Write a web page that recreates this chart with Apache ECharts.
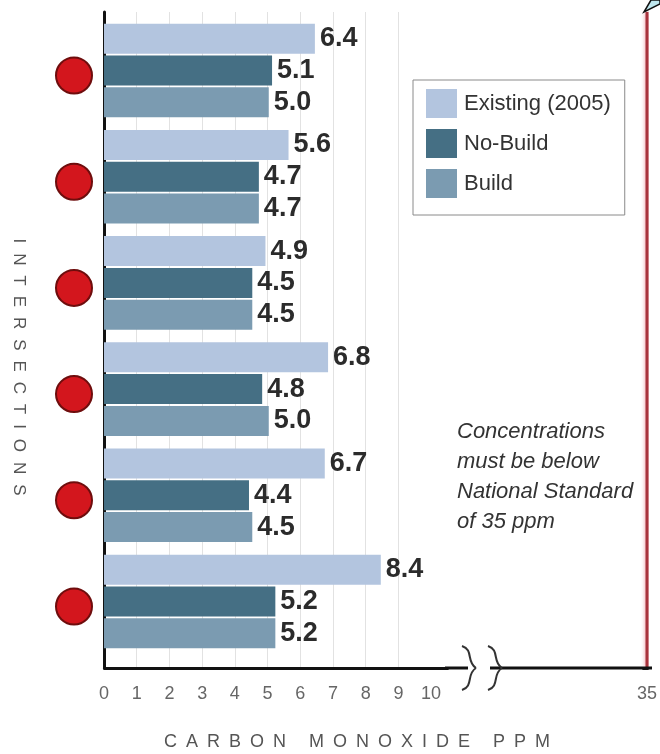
<!DOCTYPE html>
<html>
<head>
<meta charset="utf-8">
<script src="https://cdn.jsdelivr.net/npm/echarts@6/dist/echarts.min.js"></script>
<style>
  html, body { margin: 0; padding: 0; background: #fff; }
  #chart { width: 660px; height: 754px; }
</style>
</head>
<body>
<div id="chart"></div>
<script>
// Carbon monoxide concentrations (ppm) at six intersections
const intersections = ['1', '2', '3', '4', '5', '6'];
const existing2005 = [6.4, 5.6, 4.9, 6.8, 6.7, 8.4];
const noBuild = [5.1, 4.7, 4.5, 4.8, 4.4, 5.2];
const build = [5.0, 4.7, 4.5, 5.0, 4.5, 5.2];
const seriesNames = ['Existing (2005)', 'No-Build', 'Build'];
const tickValues = [0, 1, 2, 3, 4, 5, 6, 7, 8, 9, 10, 35];
const nationalStandard = 35;

const seriesColors = ['#b3c5df', '#456f84', '#7b9bb1'];
const sansFont = '"Liberation Sans", Arial, sans-serif';
const narrowFont = '"Liberation Sans Narrow", "Liberation Sans", Arial, sans-serif';

// Shared scale: 0-10 in full, then a break up to the 35 ppm standard
function ppmAxis(gridIndex, visible) {
  return {
    type: 'value',
    gridIndex: gridIndex,
    min: 0,
    max: 35,
    interval: 1,
    breaks: [{ start: 10.5, end: 34.9, gap: 6 }],
    breakArea: { show: false },
    axisLine: { show: visible, lineStyle: { color: '#111', width: 3 } },
    axisTick: { show: false },
    splitLine: { show: visible, lineStyle: { color: '#e2e2e2', width: 1 } },
    axisLabel: {
      show: visible,
      customValues: tickValues,
      margin: 17,
      color: '#666',
      fontSize: 18,
      fontFamily: narrowFont
    }
  };
}

const barSeries = [existing2005, noBuild, build].map(function (values, i) {
  return {
    name: seriesNames[i],
    type: 'bar',
    xAxisIndex: 0,
    yAxisIndex: 0,
    data: values,
    barWidth: 30,
    barGap: '6%',
    itemStyle: { color: seriesColors[i] },
    label: {
      show: true,
      position: 'right',
      distance: 5,
      formatter: function (p) { return p.value.toFixed(1); },
      fontSize: 27,
      fontWeight: 'bold',
      color: '#2b2b2b',
      fontFamily: sansFont
    }
  };
});

// brace-shaped break mark drawn across the axis line
function breakMark(x0) {
  const style = { fill: 'none', stroke: '#333', lineWidth: 2 };
  return [
    { type: 'bezierCurve', z: 51, shape: { x1: x0, y1: 646, cpx1: x0 + 12, cpy1: 650, cpx2: x0 + 4, cpy2: 662, x2: x0 + 14, y2: 668 }, style: style },
    { type: 'bezierCurve', z: 51, shape: { x1: x0 + 14, y1: 668, cpx1: x0 + 4, cpy1: 674, cpx2: x0 + 12, cpy2: 686, x2: x0, y2: 690 }, style: style }
  ];
}

// axis line continued on both sides of the break
const axisLineStyle = { stroke: '#111', lineWidth: 3 };
const axisLineSegments = [
  { type: 'line', z: 50, shape: { x1: 445, y1: 668, x2: 468, y2: 668 }, style: axisLineStyle },
  { type: 'line', z: 50, shape: { x1: 490, y1: 668, x2: 652, y2: 668 }, style: axisLineStyle }
];

const chart = echarts.init(document.getElementById('chart'), null, { renderer: 'canvas' });

chart.setOption({
  animation: false,
  backgroundColor: '#fff',
  grid: [
    { left: 104, right: 9, top: 17.4, bottom: 99.4 },
    { left: 104, right: 9, top: 12, bottom: 86 }
  ],
  xAxis: [ppmAxis(0, false), ppmAxis(1, true)],
  yAxis: [
    {
      type: 'category',
      gridIndex: 0,
      data: intersections,
      inverse: true,
      axisLine: { show: false },
      axisTick: { show: false },
      splitLine: { show: false },
      axisLabel: {
        margin: 13,
        padding: [10, 0, 0, 0],
        formatter: function () { return '{dot|}'; },
        rich: {
          dot: {
            width: 34,
            height: 34,
            borderRadius: 17,
            backgroundColor: '#d3161d',
            borderColor: '#6e0d0d',
            borderWidth: 2
          }
        }
      }
    },
    {
      type: 'value',
      gridIndex: 1,
      min: 0,
      max: 1,
      axisLine: { show: true, lineStyle: { color: '#111', width: 3 } },
      axisTick: { show: false },
      axisLabel: { show: false },
      splitLine: { show: false }
    }
  ],
  legend: {
    data: seriesNames,
    orient: 'vertical',
    left: 413,
    top: 80,
    padding: [9, 14, 17, 13],
    itemWidth: 31,
    itemHeight: 29,
    itemGap: 11,
    icon: 'rect',
    backgroundColor: '#fff',
    borderColor: '#8a8a8a',
    borderWidth: 1,
    textStyle: { fontSize: 22, color: '#333', fontFamily: sansFont, padding: [0, 0, 0, 2] }
  },
  series: barSeries.concat([
    {
      name: 'National Standard',
      type: 'line',
      xAxisIndex: 1,
      yAxisIndex: 1,
      data: [[nationalStandard, 0], [nationalStandard, 1]],
      symbol: 'none',
      silent: true,
      lineStyle: {
        color: '#a8323c',
        width: 3,
        shadowColor: 'rgba(235, 120, 130, 0.9)',
        shadowBlur: 4
      },
      z: 5
    }
  ]),
  graphic: axisLineSegments.concat(breakMark(462), breakMark(488), [
    {
      type: 'text', z: 60,
      x: 19, y: 367,
      rotation: -Math.PI / 2,
      style: {
        text: 'I\u2002\u200AN\u2002\u200AT\u2002\u200AE\u2002\u200AR\u2002\u200AS\u2002\u200AE\u2002\u200AC\u2002\u200AT\u2002\u200AI\u2002\u200AO\u2002\u200AN\u2002\u200AS',
        fontSize: 17,
        fontFamily: sansFont,
        fill: '#555',
        align: 'center',
        verticalAlign: 'middle'
      }
    },
    {
      type: 'text', z: 60,
      x: 357, y: 742,
      style: {
        text: 'C\u2002A\u2002R\u2002B\u2002O\u2002N\u2002 \u2002M\u2002O\u2002N\u2002O\u2002X\u2002I\u2002D\u2002E\u2002 \u2002P\u2002P\u2002M',
        fontSize: 18,
        fontFamily: sansFont,
        fill: '#555',
        align: 'center',
        verticalAlign: 'middle'
      }
    },
    {
      type: 'text', z: 60,
      left: 457, top: 417,
      style: {
        text: 'Concentrations\nmust be below\nNational Standard\nof 35 ppm',
        fontSize: 22,
        fontStyle: 'italic',
        fontFamily: sansFont,
        lineHeight: 30,
        fill: '#333'
      }
    },
    {
      type: 'polygon', z: 60,
      shape: { points: [[644, 12], [651, 0], [660, 0], [660, 4]] },
      style: { fill: '#bfe7ee', stroke: '#111', lineWidth: 1.5 }
    }
  ])
});
</script>
</body>
</html>
